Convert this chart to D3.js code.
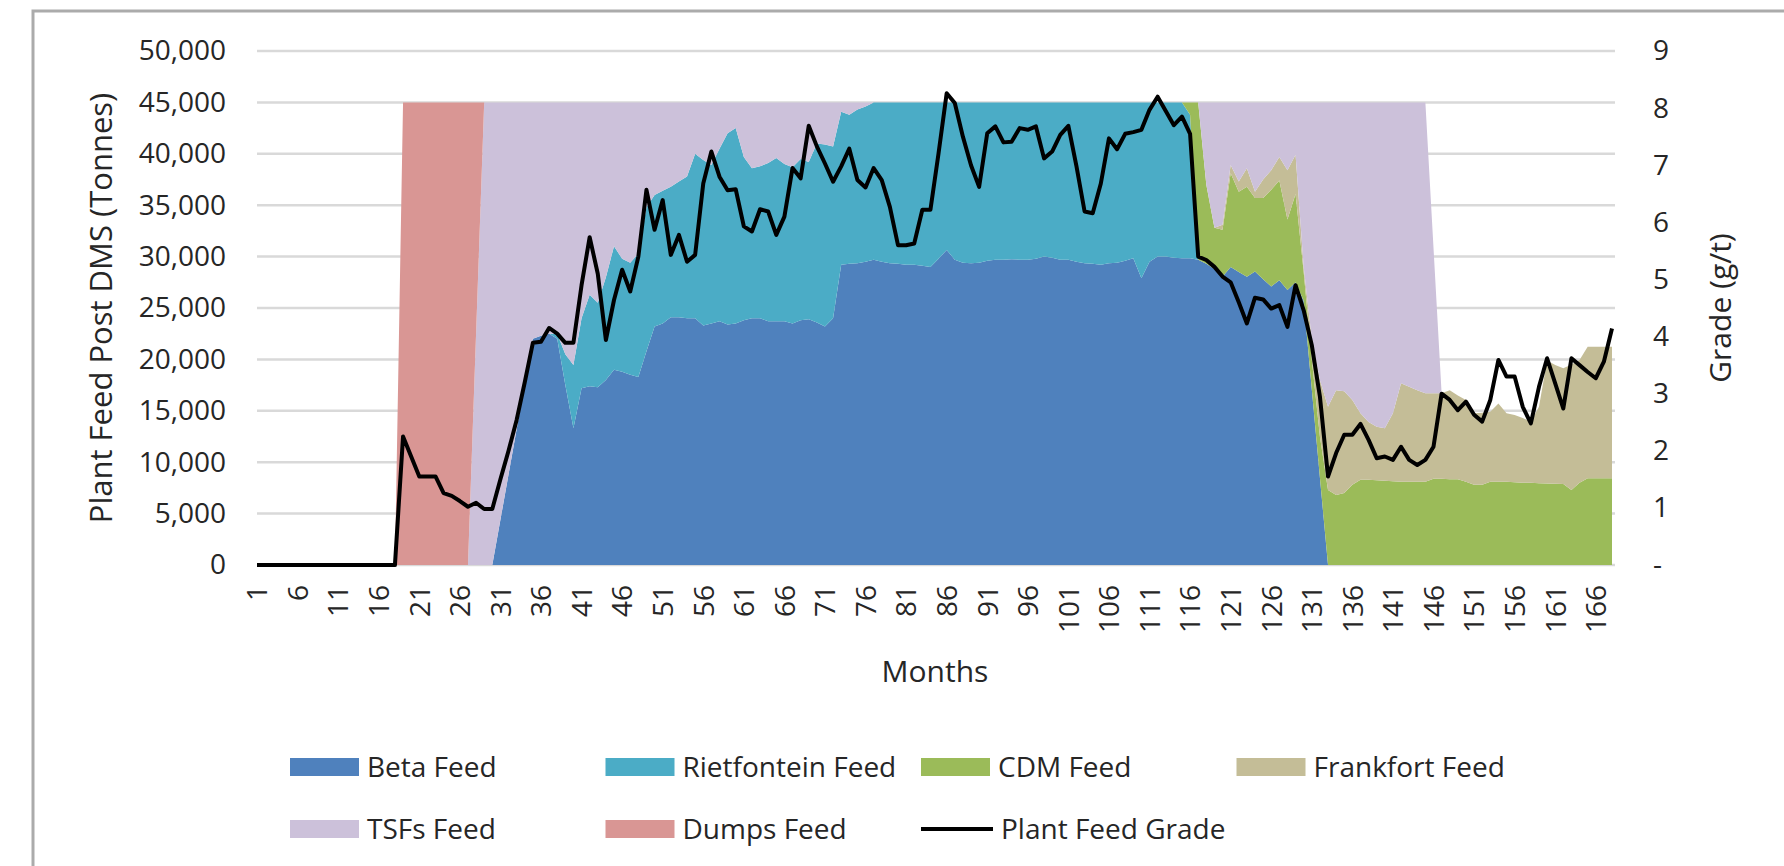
<html>

<head>
    <title>Plant Feed Post DMS</title>
    <script src="https://d3js.org/d3.v7.min.js"></script>
    <style>
        body { margin: 0; background: #ffffff; }
        text { font-family: "Open Sans", sans-serif; fill: #262626; }
    </style>
</head>

<body>
    <div id="myPlot"></div>
    <script>
        // months 1..168 on the category axis
        var months = d3.range(1, 169);

        // tonnes per month, one array per feed source
        var betaFeed = [
            0, 0, 0, 0, 0, 0, 0, 0, 0, 0,
            0, 0, 0, 0, 0, 0, 0, 0, 0, 0,
            0, 0, 0, 0, 0, 0, 0, 0, 0, 0,
            4400, 8800, 13200, 17600, 22000, 22300, 22500, 22000, 17500, 13300,
            17200, 17400, 17300, 18000, 19000, 18800, 18500, 18300, 20800, 23200,
            23500, 24100, 24100, 24000, 24000, 23300, 23500, 23700, 23400, 23500,
            23800, 24000, 24000, 23700, 23700, 23700, 23500, 23800, 23900, 23600,
            23200, 24000, 29200, 29300, 29350, 29500, 29700, 29500, 29350, 29300,
            29200, 29200, 29100, 29000, 29800, 30650, 29700, 29400, 29350, 29400,
            29600, 29700, 29700, 29750, 29700, 29700, 29800, 30000, 29900, 29700,
            29700, 29500, 29350, 29300, 29200, 29350, 29400, 29600, 29850, 27900,
            29500, 30000, 30000, 29900, 29850, 29850, 29700, 29300, 28800, 28050,
            29000, 28500, 28050, 28550, 27800, 27100, 27700, 26750, 27500, 25700,
            17100, 8500, 0, 0, 0, 0, 0, 0, 0, 0,
            0, 0, 0, 0, 0, 0, 0, 0, 0, 0,
            0, 0, 0, 0, 0, 0, 0, 0, 0, 0,
            0, 0, 0, 0, 0, 0, 0, 0
        ];
        var rietfonteinFeed = [
            0, 0, 0, 0, 0, 0, 0, 0, 0, 0,
            0, 0, 0, 0, 0, 0, 0, 0, 0, 0,
            0, 0, 0, 0, 0, 0, 0, 0, 0, 0,
            0, 0, 0, 0, 0, 0, 0, 500, 3000, 6150,
            6800, 8900, 8200, 10000, 12000, 11000, 10900, 12000, 14000, 12800,
            12900, 12700, 13200, 13800, 16000, 16100, 15400, 16800, 18600, 19000,
            15900, 14600, 14800, 15400, 15900, 15300, 15200, 15700, 15300, 17400,
            17700, 16700, 14900, 14500, 14950, 15100, 15300, 15500, 15650, 15700,
            15800, 15800, 15900, 16000, 15200, 14350, 15300, 15600, 15650, 15600,
            15400, 15300, 15300, 15250, 15300, 15300, 15200, 15000, 15100, 15300,
            15300, 15500, 15650, 15700, 15800, 15650, 15600, 15400, 15150, 17100,
            15500, 15000, 15000, 15100, 15150, 13950, 0, 0, 0, 0,
            0, 0, 0, 0, 0, 0, 0, 0, 0, 0,
            0, 0, 0, 0, 0, 0, 0, 0, 0, 0,
            0, 0, 0, 0, 0, 0, 0, 0, 0, 0,
            0, 0, 0, 0, 0, 0, 0, 0, 0, 0,
            0, 0, 0, 0, 0, 0, 0, 0
        ];
        var cdmFeed = [
            0, 0, 0, 0, 0, 0, 0, 0, 0, 0,
            0, 0, 0, 0, 0, 0, 0, 0, 0, 0,
            0, 0, 0, 0, 0, 0, 0, 0, 0, 0,
            0, 0, 0, 0, 0, 0, 0, 0, 0, 0,
            0, 0, 0, 0, 0, 0, 0, 0, 0, 0,
            0, 0, 0, 0, 0, 0, 0, 0, 0, 0,
            0, 0, 0, 0, 0, 0, 0, 0, 0, 0,
            0, 0, 0, 0, 0, 0, 0, 0, 0, 0,
            0, 0, 0, 0, 0, 0, 0, 0, 0, 0,
            0, 0, 0, 0, 0, 0, 0, 0, 0, 0,
            0, 0, 0, 0, 0, 0, 0, 0, 0, 0,
            0, 0, 0, 0, 0, 1200, 15300, 7700, 4000, 4550,
            9100, 7800, 8750, 7150, 7900, 9400, 9700, 6850, 8600, 2800,
            2900, 4000, 7300, 6800, 7000, 7800, 8300, 8300, 8250, 8200,
            8150, 8100, 8100, 8100, 8100, 8400, 8400, 8350, 8330, 8100,
            7800, 7800, 8100, 8100, 8100, 8050, 8000, 8000, 7950, 7940,
            7900, 7880, 7300, 8000, 8430, 8430, 8430, 8430
        ];
        var frankfortFeed = [
            0, 0, 0, 0, 0, 0, 0, 0, 0, 0,
            0, 0, 0, 0, 0, 0, 0, 0, 0, 0,
            0, 0, 0, 0, 0, 0, 0, 0, 0, 0,
            0, 0, 0, 0, 0, 0, 0, 0, 0, 0,
            0, 0, 0, 0, 0, 0, 0, 0, 0, 0,
            0, 0, 0, 0, 0, 0, 0, 0, 0, 0,
            0, 0, 0, 0, 0, 0, 0, 0, 0, 0,
            0, 0, 0, 0, 0, 0, 0, 0, 0, 0,
            0, 0, 0, 0, 0, 0, 0, 0, 0, 0,
            0, 0, 0, 0, 0, 0, 0, 0, 0, 0,
            0, 0, 0, 0, 0, 0, 0, 0, 0, 0,
            0, 0, 0, 0, 0, 0, 0, 0, 0, 500,
            800, 1000, 1800, 600, 1800, 1900, 2300, 4800, 3800, 500,
            2000, 5500, 8100, 10200, 9900, 8250, 6450, 5600, 5210, 5100,
            6600, 9570, 9250, 8900, 8600, 8300, 8300, 8650, 8170, 7950,
            6950, 7000, 6800, 7600, 6650, 6550, 6300, 5940, 7450, 11960,
            11550, 11250, 12200, 11940, 12810, 12810, 12810, 12810
        ];
        var tsfsFeed = [
            0, 0, 0, 0, 0, 0, 0, 0, 0, 0,
            0, 0, 0, 0, 0, 0, 0, 0, 0, 0,
            0, 0, 0, 0, 0, 0, 0, 22500, 45000, 45000,
            40600, 36200, 31800, 27400, 23000, 22700, 22500, 22500, 24500, 25550,
            21000, 18700, 19500, 17000, 14000, 15200, 15600, 14700, 10200, 9000,
            8600, 8200, 7700, 7200, 5000, 5600, 6100, 4500, 3000, 2500,
            5300, 6400, 6200, 5900, 5400, 6000, 6300, 5500, 5800, 4000,
            4100, 4300, 900, 1200, 700, 400, 0, 0, 0, 0,
            0, 0, 0, 0, 0, 0, 0, 0, 0, 0,
            0, 0, 0, 0, 0, 0, 0, 0, 0, 0,
            0, 0, 0, 0, 0, 0, 0, 0, 0, 0,
            0, 0, 0, 0, 0, 0, 0, 8000, 12200, 11900,
            6100, 7700, 6400, 8700, 7500, 6600, 5300, 6600, 5100, 16000,
            23000, 27000, 29600, 28000, 28100, 28950, 30250, 31100, 31540, 31700,
            30250, 27330, 27650, 28000, 28300, 14150, 0, 0, 0, 0,
            0, 0, 0, 0, 0, 0, 0, 0, 0, 0,
            0, 0, 0, 0, 0, 0, 0, 0
        ];
        var dumpsFeed = [
            0, 0, 0, 0, 0, 0, 0, 0, 0, 0,
            0, 0, 0, 0, 0, 0, 0, 0, 45000, 45000,
            45000, 45000, 45000, 45000, 45000, 45000, 45000, 22500, 0, 0,
            0, 0, 0, 0, 0, 0, 0, 0, 0, 0,
            0, 0, 0, 0, 0, 0, 0, 0, 0, 0,
            0, 0, 0, 0, 0, 0, 0, 0, 0, 0,
            0, 0, 0, 0, 0, 0, 0, 0, 0, 0,
            0, 0, 0, 0, 0, 0, 0, 0, 0, 0,
            0, 0, 0, 0, 0, 0, 0, 0, 0, 0,
            0, 0, 0, 0, 0, 0, 0, 0, 0, 0,
            0, 0, 0, 0, 0, 0, 0, 0, 0, 0,
            0, 0, 0, 0, 0, 0, 0, 0, 0, 0,
            0, 0, 0, 0, 0, 0, 0, 0, 0, 0,
            0, 0, 0, 0, 0, 0, 0, 0, 0, 0,
            0, 0, 0, 0, 0, 0, 0, 0, 0, 0,
            0, 0, 0, 0, 0, 0, 0, 0, 0, 0,
            0, 0, 0, 0, 0, 0, 0, 0
        ];

        // plant feed grade (g/t), right axis
        var plantFeedGrade = [
            0, 0, 0, 0, 0, 0, 0, 0, 0, 0,
            0, 0, 0, 0, 0, 0, 0, 0, 2.25, 1.9,
            1.55, 1.55, 1.55, 1.26, 1.21, 1.12, 1.02, 1.09, 0.98, 0.98,
            1.5, 2.0, 2.54, 3.2, 3.89, 3.91, 4.15, 4.05, 3.89, 3.89,
            4.9, 5.74, 5.1, 3.94, 4.64, 5.17, 4.79, 5.4, 6.57, 5.87,
            6.39, 5.43, 5.78, 5.31, 5.43, 6.68, 7.24, 6.8, 6.56, 6.58,
            5.93, 5.84, 6.23, 6.19, 5.78, 6.1, 6.95, 6.77, 7.69, 7.33,
            7.03, 6.71, 6.98, 7.29, 6.74, 6.61, 6.95, 6.74, 6.27, 5.6,
            5.6, 5.63, 6.22, 6.22, 7.21, 8.26, 8.09, 7.5, 7.0, 6.62,
            7.56, 7.68, 7.4, 7.41, 7.65, 7.62, 7.68, 7.12, 7.24, 7.53,
            7.69, 6.98, 6.19, 6.16, 6.68, 7.47, 7.28, 7.55, 7.58, 7.62,
            7.97, 8.2, 7.95, 7.7, 7.85, 7.55, 5.4, 5.34, 5.22, 5.05,
            4.95, 4.6, 4.23, 4.68, 4.65, 4.49, 4.55, 4.17, 4.9, 4.46,
            3.85, 2.95, 1.55, 1.96, 2.28, 2.28, 2.47, 2.19, 1.87, 1.9,
            1.84, 2.07, 1.84, 1.75, 1.84, 2.07, 3.0, 2.89, 2.71, 2.86,
            2.63, 2.51, 2.89, 3.59, 3.3, 3.3, 2.77, 2.48, 3.12, 3.62,
            3.18, 2.74, 3.62, 3.5, 3.38, 3.27, 3.56, 4.14
        ];

        var seriesNames = ["Beta Feed", "Rietfontein Feed", "CDM Feed", "Frankfort Feed", "TSFs Feed", "Dumps Feed"];
        var seriesColors = ["#4f81bd", "#4bacc6", "#9bbb59", "#c4bd97", "#ccc1da", "#d99694"];
        var tonnesTicks = [0, 5000, 10000, 15000, 20000, 25000, 30000, 35000, 40000, 45000, 50000];
        var gradeTicks = [0, 1, 2, 3, 4, 5, 6, 7, 8, 9];
        var monthTicks = months.filter(function (m) { return (m - 1) % 5 === 0; });

        var allSeries = [betaFeed, rietfonteinFeed, cdmFeed, frankfortFeed, tsfsFeed, dumpsFeed];

        // table the stack layout needs
        var table = months.map(function (m, i) {
            var row = { month: m };
            seriesNames.forEach(function (name, k) { row[name] = allSeries[k][i]; });
            return row;
        });

        var svg = d3.select("#myPlot").append("svg")
            .attr("width", 1784)
            .attr("height", 866);

        svg.append("rect")
            .attr("width", 1784).attr("height", 866)
            .attr("fill", "#ffffff");

        // chart frame (runs off the right and bottom edge)
        svg.append("rect")
            .attr("x", 33).attr("y", 11)
            .attr("width", 1800).attr("height", 900)
            .attr("fill", "none")
            .attr("stroke", "#ababab")
            .attr("stroke-width", 3);

        var xScale = d3.scaleLinear().domain([1, 168]).range([257, 1612]);
        var yLeft = d3.scaleLinear().domain([0, 50000]).range([565, 51]);
        var yRight = d3.scaleLinear().domain([0, 9]).range([565, 51]);

        // gridlines
        svg.append("g").selectAll("line")
            .data(tonnesTicks)
            .enter()
            .append("line")
            .attr("x1", 257).attr("x2", 1615)
            .attr("y1", function (d) { return yLeft(d); })
            .attr("y2", function (d) { return yLeft(d); })
            .attr("stroke", "#d9d9d9")
            .attr("stroke-width", 2.5);

        // stacked areas
        var stack = d3.stack().keys(seriesNames);
        var layers = stack(table);

        var area = d3.area()
            .x(function (d) { return xScale(d.data.month); })
            .y0(function (d) { return yLeft(d[0]); })
            .y1(function (d) { return yLeft(d[1]); });

        svg.append("g").selectAll("path")
            .data(layers)
            .enter()
            .append("path")
            .attr("d", area)
            .attr("fill", function (d, i) { return seriesColors[i]; });

        // grade line
        var line = d3.line()
            .x(function (d, i) { return xScale(months[i]); })
            .y(function (d) { return yRight(d); });

        svg.append("path")
            .datum(plantFeedGrade)
            .attr("d", line)
            .attr("fill", "none")
            .attr("stroke", "#000000")
            .attr("stroke-width", 4)
            .attr("stroke-linejoin", "round");

        // left axis
        var leftAxis = svg.append("g")
            .attr("transform", "translate(257,0)")
            .call(d3.axisLeft(yLeft).tickValues(tonnesTicks).tickSize(0).tickPadding(31)
                .tickFormat(d3.format(",")));
        leftAxis.select(".domain").remove();

        // right axis
        var rightAxis = svg.append("g")
            .attr("transform", "translate(1615,0)")
            .call(d3.axisRight(yRight).tickValues(gradeTicks).tickSize(0).tickPadding(38)
                .tickFormat(function (d) { return d === 0 ? "-" : d; }));
        rightAxis.select(".domain").remove();

        // bottom axis, rotated labels
        var bottomAxis = svg.append("g")
            .attr("transform", "translate(0,565)")
            .call(d3.axisBottom(xScale).tickValues(monthTicks).tickSize(0)
                .tickFormat(function (d) { return d; }));
        bottomAxis.select(".domain").remove();
        bottomAxis.selectAll("text")
            .attr("x", -20)
            .attr("y", 0)
            .attr("dy", "0.35em")
            .attr("transform", "rotate(-90)")
            .style("text-anchor", "end");

        svg.selectAll(".tick text")
            .attr("font-family", "Open Sans")
            .attr("font-size", 28)
            .style("fill", "#262626");

        // axis titles
        svg.append("text")
            .attr("transform", "translate(112,308) rotate(-90)")
            .attr("text-anchor", "middle")
            .attr("font-size", 31)
            .text("Plant Feed Post DMS (Tonnes)");

        svg.append("text")
            .attr("transform", "translate(1731,308) rotate(-90)")
            .attr("text-anchor", "middle")
            .attr("font-size", 30)
            .text("Grade (g/t)");

        svg.append("text")
            .attr("x", 935).attr("y", 682)
            .attr("text-anchor", "middle")
            .attr("font-size", 30)
            .text("Months");

        // legend
        var legendItems = seriesNames.map(function (name, i) {
            return { name: name, color: seriesColors[i], kind: "area" };
        });
        legendItems.push({ name: "Plant Feed Grade", color: "#000000", kind: "line" });

        var legend = svg.append("g").selectAll("g")
            .data(legendItems)
            .enter()
            .append("g")
            .attr("transform", function (d, i) {
                return "translate(" + (290 + (i % 4) * 315.5) + "," + (767 + Math.floor(i / 4) * 62) + ")";
            });

        legend.filter(function (d) { return d.kind === "area"; })
            .append("rect")
            .attr("x", 0).attr("y", -9)
            .attr("width", 69).attr("height", 18)
            .attr("fill", function (d) { return d.color; });

        legend.filter(function (d) { return d.kind === "line"; })
            .append("line")
            .attr("x1", 0).attr("x2", 72)
            .attr("y1", 0).attr("y2", 0)
            .attr("stroke", "#000000")
            .attr("stroke-width", 4);

        legend.append("text")
            .attr("x", function (d) { return d.kind === "line" ? 80 : 77; })
            .attr("y", 10)
            .attr("font-size", 28)
            .text(function (d) { return d.name; });
    </script>
</body>

</html>
